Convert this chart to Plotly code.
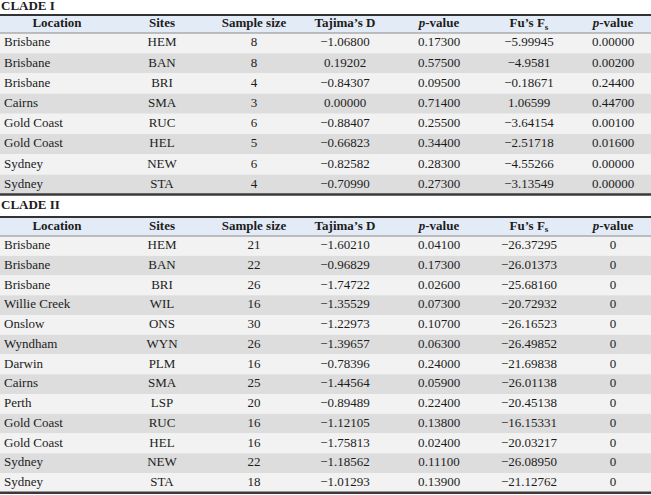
import plotly.graph_objects as go

# column headings (same for both clades)
headers = ["Location", "Sites", "Sample size", "Tajima’s D",
           "<i>p</i>-value", "Fu’s F<sub>s</sub>", "<i>p</i>-value"]

# CLADE I
c1_location = ["Brisbane", "Brisbane", "Brisbane", "Cairns",
               "Gold Coast", "Gold Coast", "Sydney", "Sydney"]
c1_sites = ["HEM", "BAN", "BRI", "SMA", "RUC", "HEL", "NEW", "STA"]
c1_n = [8, 8, 4, 3, 6, 5, 6, 4]
c1_tajima = ["−1.06800", "0.19202", "−0.84307", "0.00000",
             "−0.88407", "−0.66823", "−0.82582", "−0.70990"]
c1_tajima_p = ["0.17300", "0.57500", "0.09500", "0.71400",
               "0.25500", "0.34400", "0.28300", "0.27300"]
c1_fu = ["−5.99945", "−4.9581", "−0.18671", "1.06599",
         "−3.64154", "−2.51718", "−4.55266", "−3.13549"]
c1_fu_p = ["0.00000", "0.00200", "0.24400", "0.44700",
           "0.00100", "0.01600", "0.00000", "0.00000"]

# CLADE II
c2_location = ["Brisbane", "Brisbane", "Brisbane", "Willie Creek", "Onslow",
               "Wyndham", "Darwin", "Cairns", "Perth", "Gold Coast",
               "Gold Coast", "Sydney", "Sydney"]
c2_sites = ["HEM", "BAN", "BRI", "WIL", "ONS", "WYN", "PLM", "SMA", "LSP",
            "RUC", "HEL", "NEW", "STA"]
c2_n = [21, 22, 26, 16, 30, 26, 16, 25, 20, 16, 16, 22, 18]
c2_tajima = ["−1.60210", "−0.96829", "−1.74722", "−1.35529", "−1.22973",
             "−1.39657", "−0.78396", "−1.44564", "−0.89489", "−1.12105",
             "−1.75813", "−1.18562", "−1.01293"]
c2_tajima_p = ["0.04100", "0.17300", "0.02600", "0.07300", "0.10700",
               "0.06300", "0.24000", "0.05900", "0.22400", "0.13800",
               "0.02400", "0.11100", "0.13900"]
c2_fu = ["−26.37295", "−26.01373", "−25.68160", "−20.72932", "−26.16523",
         "−26.49852", "−21.69838", "−26.01138", "−20.45138", "−16.15331",
         "−20.03217", "−26.08950", "−21.12762"]
c2_fu_p = ["0"] * 13

W, H = 651, 495
FONT = "Liberation Serif"
INK = "#1c1c1c"

col_x = [4, 162, 254, 345, 439, 529, 613]
head_x = [57, 162, 254, 345, 439, 529, 613]

sections = [
    dict(title="CLADE I", title_y=7, head_top=15, head_bot=33, row_h=20.2,
         cols=[c1_location, c1_sites, c1_n, c1_tajima, c1_tajima_p, c1_fu, c1_fu_p]),
    dict(title="CLADE II", title_y=206, head_top=217, head_bot=236, row_h=19.75,
         cols=[c2_location, c2_sites, c2_n, c2_tajima, c2_tajima_p, c2_fu, c2_fu_p]),
]

fig = go.Figure()
shapes = []

for sec in sections:
    n = len(sec["cols"][0])
    top, bot, rh = sec["head_top"], sec["head_bot"], sec["row_h"]
    ys = [bot + rh * (i + 0.5) for i in range(n)]
    end = bot + rh * n

    # header band and row bands
    shapes.append(dict(type="rect", x0=0, x1=W, y0=top, y1=bot,
                       fillcolor="#e3ebf6", line_width=0, layer="below"))
    for i in range(n):
        shapes.append(dict(type="rect", x0=0, x1=W, y0=bot + rh * i, y1=bot + rh * (i + 1),
                           fillcolor="#f2f2f2" if i % 2 == 0 else "#dddddd",
                           line_width=0, layer="below"))
    # rules
    shapes.append(dict(type="line", x0=0, x1=W, y0=top, y1=top, line=dict(color="#333", width=2)))
    shapes.append(dict(type="line", x0=0, x1=W, y0=bot, y1=bot, line=dict(color="#8a8a8a", width=1)))
    shapes.append(dict(type="line", x0=0, x1=W, y0=end, y1=end, line=dict(color="#3a3a3a", width=2.5)))

    # title
    fig.add_trace(go.Scatter(x=[1], y=[sec["title_y"]], text=[sec["title"]], mode="text",
                             textposition="middle right", hoverinfo="skip", cliponaxis=False,
                             textfont=dict(family=FONT, size=13, color=INK, weight="bold")))
    # headers
    fig.add_trace(go.Scatter(x=head_x, y=[(top + bot) / 2] * len(headers), text=headers,
                             mode="text", textposition="middle center", hoverinfo="skip",
                             cliponaxis=False,
                             textfont=dict(family=FONT, size=13, color=INK, weight="bold")))
    # cells
    for k, col in enumerate(sec["cols"]):
        fig.add_trace(go.Scatter(x=[col_x[k]] * n, y=ys, text=[str(v) for v in col],
                                 mode="text", hoverinfo="skip", cliponaxis=False,
                                 textposition="middle right" if k == 0 else "middle center",
                                 textfont=dict(family=FONT, size=13, color=INK)))

fig.update_layout(
    width=W, height=H,
    margin=dict(l=0, r=0, t=0, b=0),
    paper_bgcolor="white", plot_bgcolor="white",
    showlegend=False,
    shapes=shapes,
    xaxis=dict(range=[0, W], visible=False, fixedrange=True),
    yaxis=dict(range=[H, 0], visible=False, fixedrange=True),
)

# drop the browser's default body margin so the table sits at the page corner
fig.write_html("out.html", config={"displayModeBar": False},
               post_script="document.body.style.margin='0';")
